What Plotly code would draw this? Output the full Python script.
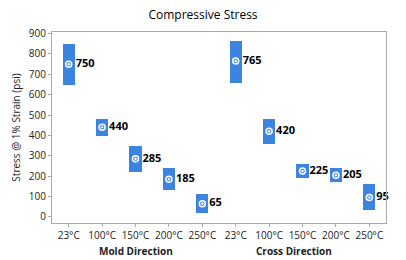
import plotly.graph_objects as go

categories = ["23°C", "100°C", "150°C", "200°C", "250°C",
              "23°C ", "100°C ", "150°C ", "200°C ", "250°C "]
tick_labels = ["23°C", "100°C", "150°C", "200°C", "250°C",
               "23°C", "100°C", "150°C", "200°C", "250°C"]
means = [750, 440, 285, 185, 65, 765, 420, 225, 205, 95]
lows = [648, 398, 222, 132, 20, 660, 357, 190, 170, 32]
highs = [850, 482, 348, 240, 112, 864, 480, 260, 240, 162]
groups = ["Mold Direction", "Cross Direction"]

pos = list(range(len(categories)))
blue = "#3D83E0"
font = "Open Sans"

fig = go.Figure()
fig.add_trace(go.Bar(
    x=pos, y=[h - l for h, l in zip(highs, lows)], base=lows,
    width=0.37, marker=dict(color=blue, line=dict(width=0)),
    hoverinfo="skip", showlegend=False))
fig.add_trace(go.Scatter(
    x=pos, y=means, mode="markers",
    marker=dict(symbol="circle-open-dot", color="white", size=6, line=dict(width=1.5)),
    showlegend=False))
fig.add_trace(go.Scatter(
    x=[p + 0.21 for p in pos], y=means, mode="text", cliponaxis=False,
    text=[f"<b>{m}</b>" for m in means], textposition="middle right",
    textfont=dict(family=font, size=11, color="black"),
    showlegend=False))

fig.update_layout(
    width=406, height=260,
    margin=dict(l=52, r=20, t=32, b=37),
    paper_bgcolor="white", plot_bgcolor="white",
    title=dict(text="Compressive Stress", x=0.5, xanchor="center", y=0.942, yanchor="middle",
               font=dict(family=font, size=12, color="black")),
    font=dict(family=font, size=10, color="#222"),
    bargap=0,
)
fig.update_xaxes(
    range=[-0.5, 9.5], tickmode="array", tickvals=pos, ticktext=tick_labels,
    showgrid=False, zeroline=False, showline=True, linecolor="#aaaaaa", linewidth=1,
    mirror=True, ticks="outside", ticklen=3, tickcolor="#aaaaaa",
    tickfont=dict(family=font, size=10, color="#222"))
fig.update_yaxes(
    range=[-30, 908], tickvals=list(range(0, 901, 100)),
    showgrid=False, zeroline=False, showline=True, linecolor="#aaaaaa", linewidth=1,
    mirror=True, ticks="outside", ticklen=3, tickcolor="#aaaaaa",
    tickfont=dict(family=font, size=10, color="#222"),
    title=dict(text="Stress @ 1% Strain (psi)", standoff=6,
               font=dict(family=font, size=10, color="#222")))

for gx, gname in zip([2.0, 6.76], groups):
    fig.add_annotation(x=gx, y=-0.148, xref="x", yref="paper", yanchor="middle",
                       text=f"<b>{gname}</b>", showarrow=False, borderpad=0,
                       font=dict(family=font, size=10, color="#222"))

fig.write_html("out.html", config={"displayModeBar": False},
               post_script="document.body.style.margin='0';")
